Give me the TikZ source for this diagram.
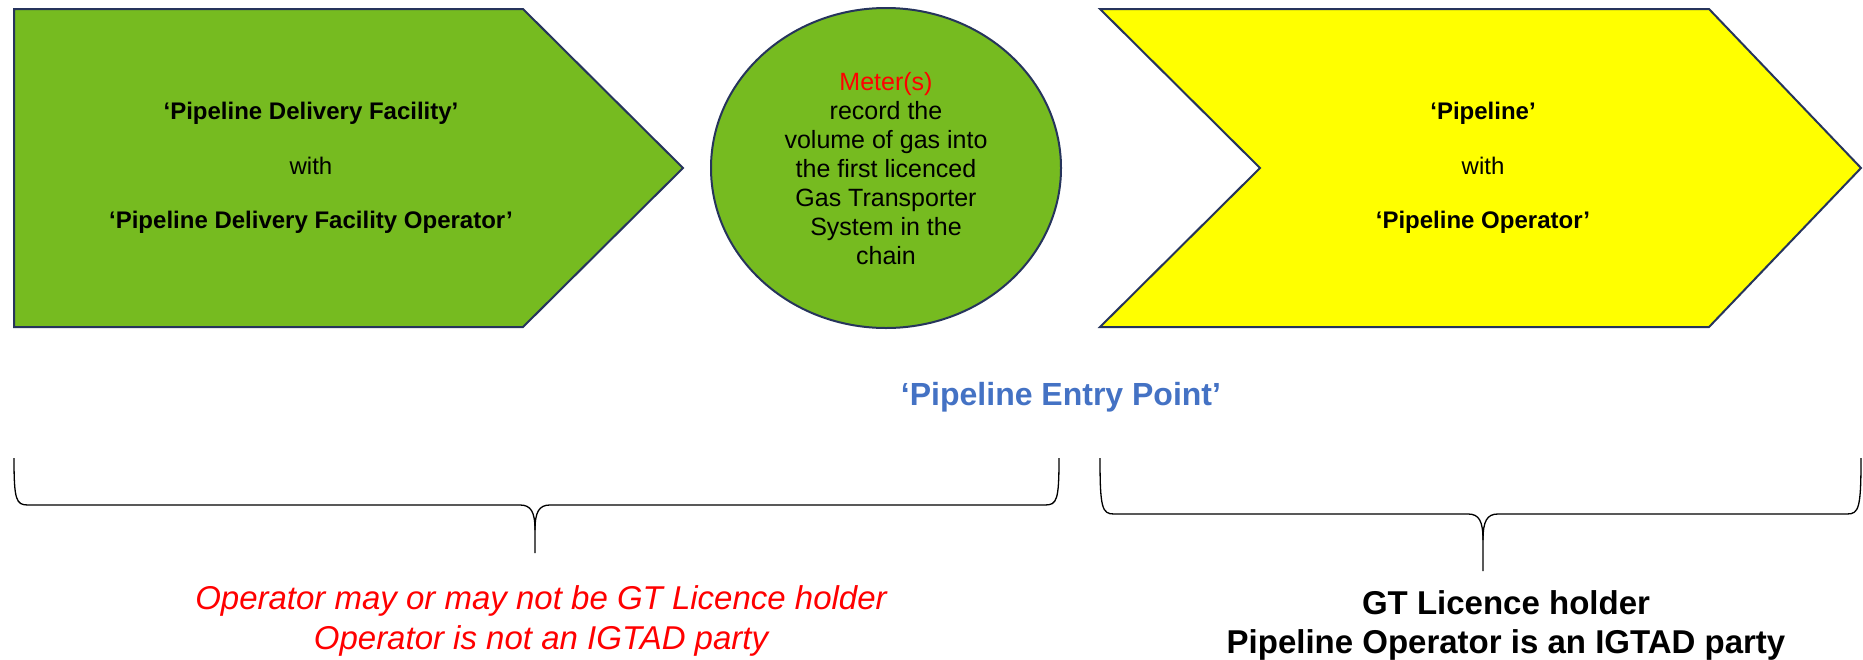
\documentclass[tikz,border=0pt]{standalone}
\usepackage{fontspec}
\setmainfont{Liberation Sans}
\definecolor{navy}{RGB}{38,52,92}
\definecolor{leaf}{RGB}{118,187,32}
\definecolor{yel}{RGB}{255,255,0}
\definecolor{entryblue}{RGB}{68,114,196}
\definecolor{redtxt}{RGB}{255,0,0}
\begin{document}
\begin{tikzpicture}[x=1pt,y=-1pt,
  shapeline/.style={draw=navy,line width=2pt,line join=miter},
  bracestyle/.style={draw=black,line width=1.3pt},
  boxtext/.style={align=center,font=\fontsize{24}{54.5}\selectfont},
  circtext/.style={align=center,font=\fontsize{25}{29}\selectfont},
  bigtext/.style={align=center,font=\fontsize{33}{39.5}\selectfont}]
\useasboundingbox (0,0) rectangle (1863,659);
\fill[white] (0,0) rectangle (1863,659);
% left pentagon
\path[shapeline,fill=leaf] (14,9) -- (523,9) -- (683,168) -- (523,327) -- (14,327) -- cycle;
% circle
\path[shapeline,fill=leaf] (886,168) ellipse [x radius=175, y radius=160];
% right chevron
\path[shapeline,fill=yel] (1100,9) -- (1709,9) -- (1861,168) -- (1709,327) -- (1100,327) -- (1260,168) -- cycle;
% texts
\node[boxtext] (pdf) at (311,168) {\textbf{‘Pipeline Delivery Facility’}\\with\\\textbf{‘Pipeline Delivery Facility Operator’}};
\node[circtext] (meter) at (886,169) {\textcolor{redtxt}{Meter(s)}\\record the\\volume of gas into\\the first licenced\\Gas Transporter\\System in the\\chain};
\node[boxtext] (pipe) at (1483,168) {\textbf{‘Pipeline’}\\with\\\textbf{‘Pipeline Operator’}};
\node[font=\fontsize{32}{38}\selectfont\bfseries,text=entryblue] (entry) at (1061,397) {‘Pipeline Entry Point’};
% braces
\coordinate (ltip) at (535,553);
\coordinate (rtip) at (1483,571);
\draw[bracestyle] (14,458) .. controls (14,500) and (16,505) .. (28,505) -- (520,505) .. controls (531,505) and (535,512) .. (535,530) -- (ltip);
\draw[bracestyle] (1059,458) .. controls (1059,500) and (1057,505) .. (1045,505) -- (550,505) .. controls (539,505) and (535,512) .. (535,530);
\draw[bracestyle] (1100,458) .. controls (1100,508) and (1102,514) .. (1114,514) -- (1468,514) .. controls (1479,514) and (1483,521) .. (1483,540) -- (rtip);
\draw[bracestyle] (1861,458) .. controls (1861,508) and (1859,514) .. (1847,514) -- (1498,514) .. controls (1487,514) and (1483,521) .. (1483,540);
\node[bigtext,text=redtxt,font=\fontsize{33}{40}\selectfont\itshape] (redlbl) at (541,621) {Operator may or may not be GT Licence holder\\Operator is not an IGTAD party};
\node[bigtext,font=\fontsize{33}{39}\selectfont\bfseries] (blklbl) at (1506,625) {GT Licence holder\\Pipeline Operator is an IGTAD party};
\end{tikzpicture}
\end{document}
